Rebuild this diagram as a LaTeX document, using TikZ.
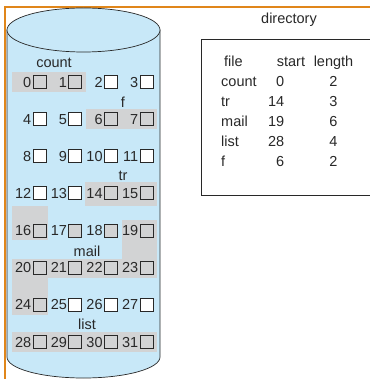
\documentclass[tikz,border=0pt]{standalone}
\usepackage{fontspec}
\setmainfont{Liberation Sans}
\definecolor{cylblue}{RGB}{200,232,248}
\definecolor{bandgray}{RGB}{210,211,212}
\definecolor{frameorange}{RGB}{224,134,26}
\definecolor{inkgray}{RGB}{40,40,40}
\begin{document}
\begin{tikzpicture}[x=1pt,y=-1pt,
  txt/.style={font=\fontsize{14.5}{16}\selectfont, inner sep=0pt, text=inkgray},
  blk/.style={draw=inkgray, line width=0.7pt, minimum width=13pt, minimum height=13pt, inner sep=0pt},
  band/.style={fill=bandgray, draw=none},
  cyl/.style={draw=inkgray, line width=0.7pt, fill=cylblue}]
\useasboundingbox (0,0) rectangle (369,379);
% frame
\draw[frameorange, line width=2.5pt] (5,380) -- (5,7) -- (370,7);
% cylinder
\path[cyl] (7,30) -- (7,357) arc[start angle=180, end angle=360, x radius=76.5, y radius=-21] -- (160,30) -- cycle;
\path[cyl] (83.5,30) ellipse[x radius=76.5, y radius=22];
% gray bands
\fill[bandgray] (12,72) rectangle (86,92);
\fill[bandgray] (86,109) rectangle (157,129);
\fill[bandgray] (85,182) rectangle (157,206);
\fill[bandgray] (12,206) rectangle (48,240);
\fill[bandgray] (122,220) rectangle (157,259);
\fill[bandgray] (12,259) rectangle (157,278);
\fill[bandgray] (12,278) rectangle (48,315);
\fill[bandgray] (12,332) rectangle (157,352);
% blocks
\foreach \r in {0,...,7}{
  \foreach \c in {0,...,3}{
    \pgfmathtruncatemacro{\n}{4*\r+\c}
    \pgfmathsetmacro{\cx}{39.5+35.67*\c}
    \pgfmathsetmacro{\cy}{82+37.1*\r}
    \pgfmathtruncatemacro{\shaded}{(\n==0||\n==1||\n==6||\n==7||(\n>=14&&\n<=24)||\n>=28)?1:0}
    \ifnum\shaded=1
      \node[blk, fill=bandgray] (b\n) at (\cx,\cy) {};
    \else
      \node[blk, fill=white] (b\n) at (\cx,\cy) {};
    \fi
    \node[txt, anchor=base east] (n\n) at ([xshift=-1.2pt, yshift=-5.3pt]b\n.west) {\n};
  }
}
% file labels
\node[txt, anchor=base] (lcount) at (54,68) {count};
\node[txt, anchor=base] (lf) at (123,107.5) {f};
\node[txt, anchor=base] (ltr) at (123,180) {tr};
\node[txt, anchor=base] (lmail) at (87,256) {mail};
\node[txt, anchor=base] (llist) at (87,329) {list};
% directory
\node[txt, anchor=base] (dir) at (289,24) {directory};
\draw[inkgray, line width=0.9pt] (370,39) -- (201,39) -- (201,195) -- (370,195);
\node[txt, anchor=base west] (hfile) at (224,67) {file};
\node[txt, anchor=base] (hstart) at (291,67) {start};
\node[txt, anchor=base] (hlength) at (333.5,67) {length};
\foreach \nm/\st/\ln [count=\i from 1] in {count/0/2, tr/14/3, mail/19/6, list/28/4, f/6/2}{
  \pgfmathsetmacro{\yy}{67+20*\i}
  \node[txt, anchor=base west] (f\i) at (221,\yy) {\nm};
  \node[txt, anchor=base east] (s\i) at (284.5,\yy) {\st};
  \node[txt, anchor=base] (l\i) at (333.5,\yy) {\ln};
}
\end{tikzpicture}
\end{document}
